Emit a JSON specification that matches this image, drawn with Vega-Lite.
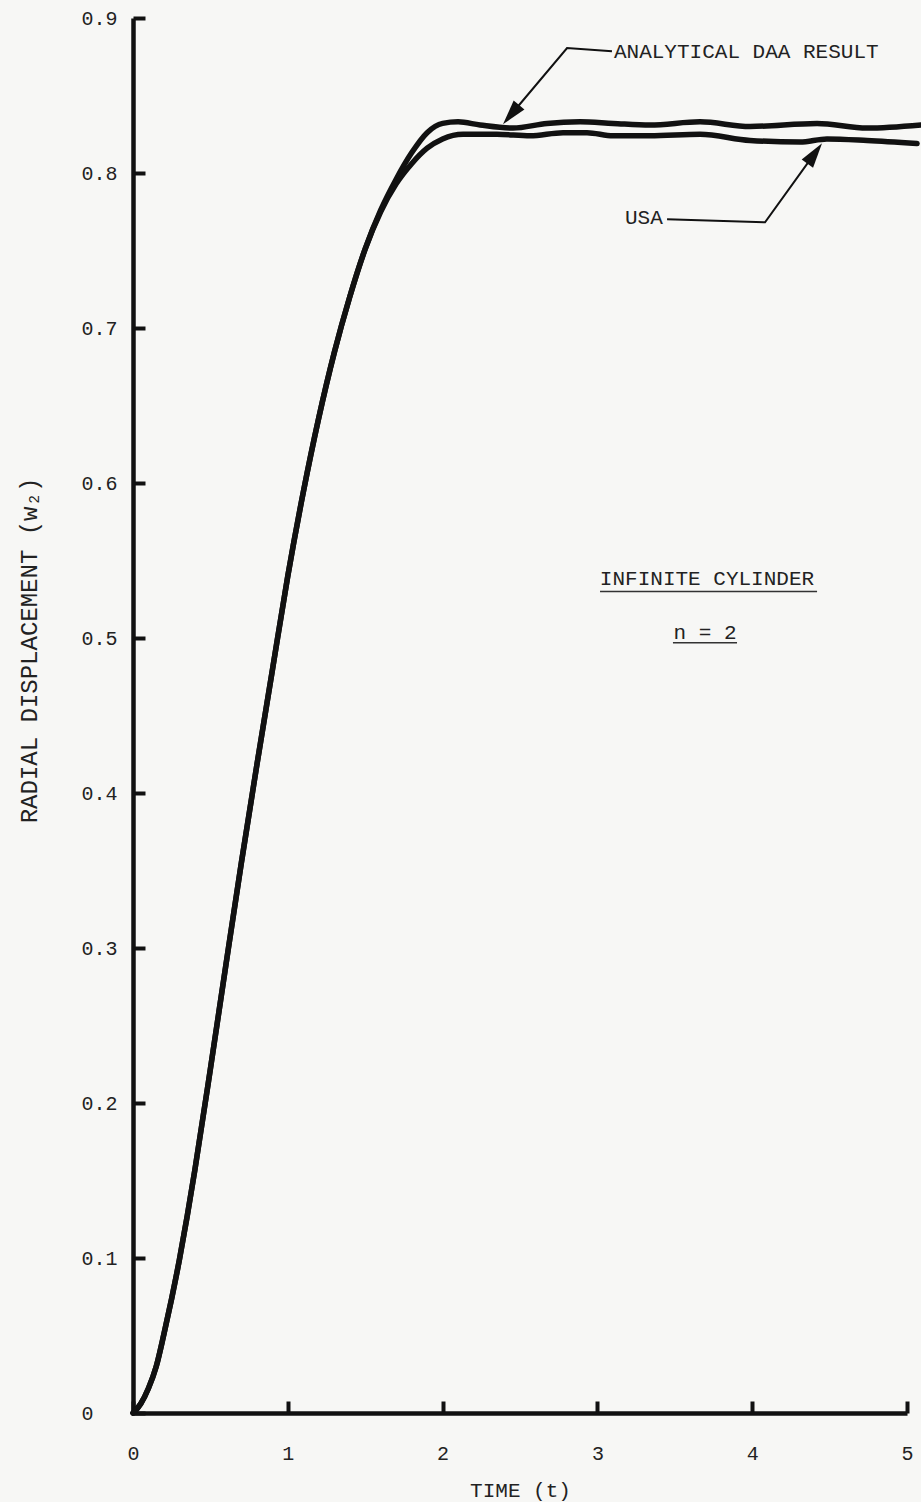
{
  "$schema": "https://vega.github.io/schema/vega-lite/v6.json",
  "width": 774,
  "height": 1395,
  "autosize": "none",
  "padding": {"left": 133, "top": 18, "right": 14, "bottom": 89},
  "background": "#f7f7f5",
  "config": {
    "view": {"stroke": null},
    "font": "Liberation Mono",
    "axis": {
      "grid": false,
      "domainColor": "#111111",
      "domainWidth": 4.5,
      "tickColor": "#111111",
      "tickWidth": 4,
      "tickSize": -12,
      "labelFont": "Liberation Mono",
      "labelFontSize": 20,
      "labelColor": "#222222",
      "labelFlush": false,
      "labelOverlap": false,
      "titleFont": "Liberation Mono",
      "titleFontWeight": "normal",
      "titleColor": "#222222"
    }
  },
  "datasets": {
    "curves": [
      {"series": "ANALYTICAL DAA RESULT", "t": 0, "v": 0},
      {"series": "ANALYTICAL DAA RESULT", "t": 0.05, "v": 0.006},
      {"series": "ANALYTICAL DAA RESULT", "t": 0.1, "v": 0.016},
      {"series": "ANALYTICAL DAA RESULT", "t": 0.15, "v": 0.03},
      {"series": "ANALYTICAL DAA RESULT", "t": 0.2, "v": 0.051},
      {"series": "ANALYTICAL DAA RESULT", "t": 0.25, "v": 0.074},
      {"series": "ANALYTICAL DAA RESULT", "t": 0.3, "v": 0.099},
      {"series": "ANALYTICAL DAA RESULT", "t": 0.35, "v": 0.127},
      {"series": "ANALYTICAL DAA RESULT", "t": 0.4, "v": 0.157},
      {"series": "ANALYTICAL DAA RESULT", "t": 0.5, "v": 0.222},
      {"series": "ANALYTICAL DAA RESULT", "t": 0.6, "v": 0.289},
      {"series": "ANALYTICAL DAA RESULT", "t": 0.7, "v": 0.355},
      {"series": "ANALYTICAL DAA RESULT", "t": 0.8, "v": 0.418},
      {"series": "ANALYTICAL DAA RESULT", "t": 0.9, "v": 0.479},
      {"series": "ANALYTICAL DAA RESULT", "t": 1.0, "v": 0.54},
      {"series": "ANALYTICAL DAA RESULT", "t": 1.1, "v": 0.594},
      {"series": "ANALYTICAL DAA RESULT", "t": 1.2, "v": 0.642},
      {"series": "ANALYTICAL DAA RESULT", "t": 1.3, "v": 0.684},
      {"series": "ANALYTICAL DAA RESULT", "t": 1.4, "v": 0.72},
      {"series": "ANALYTICAL DAA RESULT", "t": 1.5, "v": 0.751},
      {"series": "ANALYTICAL DAA RESULT", "t": 1.6, "v": 0.776},
      {"series": "ANALYTICAL DAA RESULT", "t": 1.7, "v": 0.796},
      {"series": "ANALYTICAL DAA RESULT", "t": 1.8, "v": 0.813},
      {"series": "ANALYTICAL DAA RESULT", "t": 1.9, "v": 0.826},
      {"series": "ANALYTICAL DAA RESULT", "t": 2.0, "v": 0.832},
      {"series": "ANALYTICAL DAA RESULT", "t": 2.1, "v": 0.833},
      {"series": "ANALYTICAL DAA RESULT", "t": 2.242, "v": 0.831},
      {"series": "ANALYTICAL DAA RESULT", "t": 2.455, "v": 0.829},
      {"series": "ANALYTICAL DAA RESULT", "t": 2.674, "v": 0.832},
      {"series": "ANALYTICAL DAA RESULT", "t": 2.888, "v": 0.833},
      {"series": "ANALYTICAL DAA RESULT", "t": 3.101, "v": 0.832},
      {"series": "ANALYTICAL DAA RESULT", "t": 3.34, "v": 0.831},
      {"series": "ANALYTICAL DAA RESULT", "t": 3.663, "v": 0.833},
      {"series": "ANALYTICAL DAA RESULT", "t": 3.986, "v": 0.83},
      {"series": "ANALYTICAL DAA RESULT", "t": 4.419, "v": 0.832},
      {"series": "ANALYTICAL DAA RESULT", "t": 4.742, "v": 0.829},
      {"series": "ANALYTICAL DAA RESULT", "t": 5.09, "v": 0.831},
      {"series": "USA", "t": 0, "v": 0},
      {"series": "USA", "t": 0.05, "v": 0.006},
      {"series": "USA", "t": 0.1, "v": 0.016},
      {"series": "USA", "t": 0.15, "v": 0.03},
      {"series": "USA", "t": 0.2, "v": 0.051},
      {"series": "USA", "t": 0.25, "v": 0.074},
      {"series": "USA", "t": 0.3, "v": 0.099},
      {"series": "USA", "t": 0.35, "v": 0.127},
      {"series": "USA", "t": 0.4, "v": 0.157},
      {"series": "USA", "t": 0.5, "v": 0.222},
      {"series": "USA", "t": 0.6, "v": 0.289},
      {"series": "USA", "t": 0.7, "v": 0.355},
      {"series": "USA", "t": 0.8, "v": 0.418},
      {"series": "USA", "t": 0.9, "v": 0.479},
      {"series": "USA", "t": 1.0, "v": 0.54},
      {"series": "USA", "t": 1.1, "v": 0.594},
      {"series": "USA", "t": 1.2, "v": 0.642},
      {"series": "USA", "t": 1.3, "v": 0.684},
      {"series": "USA", "t": 1.4, "v": 0.72},
      {"series": "USA", "t": 1.5, "v": 0.751},
      {"series": "USA", "t": 1.6, "v": 0.775},
      {"series": "USA", "t": 1.7, "v": 0.793},
      {"series": "USA", "t": 1.8, "v": 0.806},
      {"series": "USA", "t": 1.9, "v": 0.816},
      {"series": "USA", "t": 2.0, "v": 0.822},
      {"series": "USA", "t": 2.132, "v": 0.825},
      {"series": "USA", "t": 2.351, "v": 0.825},
      {"series": "USA", "t": 2.565, "v": 0.824},
      {"series": "USA", "t": 2.778, "v": 0.826},
      {"series": "USA", "t": 2.933, "v": 0.826},
      {"series": "USA", "t": 3.101, "v": 0.824},
      {"series": "USA", "t": 3.34, "v": 0.824},
      {"series": "USA", "t": 3.663, "v": 0.825},
      {"series": "USA", "t": 3.986, "v": 0.821},
      {"series": "USA", "t": 4.309, "v": 0.82},
      {"series": "USA", "t": 4.483, "v": 0.822},
      {"series": "USA", "t": 4.742, "v": 0.821},
      {"series": "USA", "t": 5.065, "v": 0.819}
    ],
    "leaders": [
      {"id": "a", "ord": 1, "t": 3.094, "v": 0.8786},
      {"id": "a", "ord": 2, "t": 2.804, "v": 0.8806},
      {"id": "a", "ord": 3, "t": 2.455, "v": 0.8392},
      {"id": "b", "ord": 1, "t": 3.45, "v": 0.7702},
      {"id": "b", "ord": 2, "t": 4.083, "v": 0.7682},
      {"id": "b", "ord": 3, "t": 4.392, "v": 0.811}
    ],
    "heads": [
      {"id": "a", "t": 2.455, "v": 0.8392},
      {"id": "b", "t": 4.392, "v": 0.811}
    ],
    "labels": [
      {"kind": "left", "text": "ANALYTICAL DAA RESULT", "t": 3.107, "v": 0.878},
      {"kind": "left", "text": "USA", "t": 3.178, "v": 0.771},
      {"kind": "center", "text": "INFINITE CYLINDER", "t": 3.708, "v": 0.538},
      {"kind": "center", "text": "n = 2", "t": 3.695, "v": 0.503}
    ],
    "underlines": [
      {"t": 3.017, "t2": 4.419, "v": 0.53},
      {"t": 3.488, "t2": 3.902, "v": 0.497}
    ]
  },
  "layer": [
    {
      "data": {"name": "curves"},
      "mark": {"type": "line", "interpolate": "monotone", "strokeWidth": 5.5, "color": "#111111", "strokeCap": "round", "strokeJoin": "round"},
      "encoding": {
        "x": {
          "field": "t", "type": "quantitative",
          "scale": {"domain": [0, 5], "nice": false, "zero": false},
          "axis": {"values": [0, 1, 2, 3, 4, 5], "format": "d", "title": "TIME (t)", "titleFontSize": 21, "titleY": 77, "titleBaseline": "middle", "labelPadding": 42, "labelBaseline": "top"}
        },
        "y": {
          "field": "v", "type": "quantitative",
          "scale": {"domain": [0, 0.9], "nice": false},
          "axis": {
            "values": [0, 0.1, 0.2, 0.3, 0.4, 0.5, 0.6, 0.7, 0.8, 0.9],
            "labelExpr": "datum.value == 0 ? '0' : format(datum.value, '.1f')",
            "labelAlign": "left", "labelPadding": 64, "labelBaseline": "middle",
            "title": "RADIAL DISPLACEMENT (w₂)", "titleFontSize": 24, "titleAngle": -90,
            "titleX": -104, "titleY": 632, "titleAlign": "center", "titleBaseline": "middle"
          }
        },
        "detail": {"field": "series"}
      }
    },
    {
      "data": {"name": "leaders"},
      "mark": {"type": "line", "strokeWidth": 2, "color": "#111111"},
      "encoding": {
        "x": {"field": "t", "type": "quantitative"},
        "y": {"field": "v", "type": "quantitative"},
        "detail": {"field": "id"},
        "order": {"field": "ord", "type": "quantitative"}
      }
    },
    {
      "data": {"name": "heads"},
      "transform": [{"filter": "datum.id == 'a'"}],
      "mark": {"type": "point", "shape": "M0,-1L0.45,0.6L-0.45,0.6Z", "size": 973, "angle": 220, "filled": true, "color": "#111111", "opacity": 1},
      "encoding": {
        "x": {"field": "t", "type": "quantitative"},
        "y": {"field": "v", "type": "quantitative"}
      }
    },
    {
      "data": {"name": "heads"},
      "transform": [{"filter": "datum.id == 'b'"}],
      "mark": {"type": "point", "shape": "M0,-1L0.45,0.6L-0.45,0.6Z", "size": 973, "angle": 36, "filled": true, "color": "#111111", "opacity": 1},
      "encoding": {
        "x": {"field": "t", "type": "quantitative"},
        "y": {"field": "v", "type": "quantitative"}
      }
    },
    {
      "data": {"name": "labels"},
      "transform": [{"filter": "datum.kind == 'left'"}],
      "mark": {"type": "text", "align": "left", "baseline": "middle", "font": "Liberation Mono", "fontSize": 21, "color": "#222222"},
      "encoding": {
        "x": {"field": "t", "type": "quantitative"},
        "y": {"field": "v", "type": "quantitative"},
        "text": {"field": "text"}
      }
    },
    {
      "data": {"name": "labels"},
      "transform": [{"filter": "datum.kind == 'center'"}],
      "mark": {"type": "text", "align": "center", "baseline": "middle", "font": "Liberation Mono", "fontSize": 21, "color": "#222222"},
      "encoding": {
        "x": {"field": "t", "type": "quantitative"},
        "y": {"field": "v", "type": "quantitative"},
        "text": {"field": "text"}
      }
    },
    {
      "data": {"name": "underlines"},
      "mark": {"type": "rule", "strokeWidth": 1.5, "color": "#333333"},
      "encoding": {
        "x": {"field": "t", "type": "quantitative"},
        "x2": {"field": "t2"},
        "y": {"field": "v", "type": "quantitative"}
      }
    }
  ]
}
